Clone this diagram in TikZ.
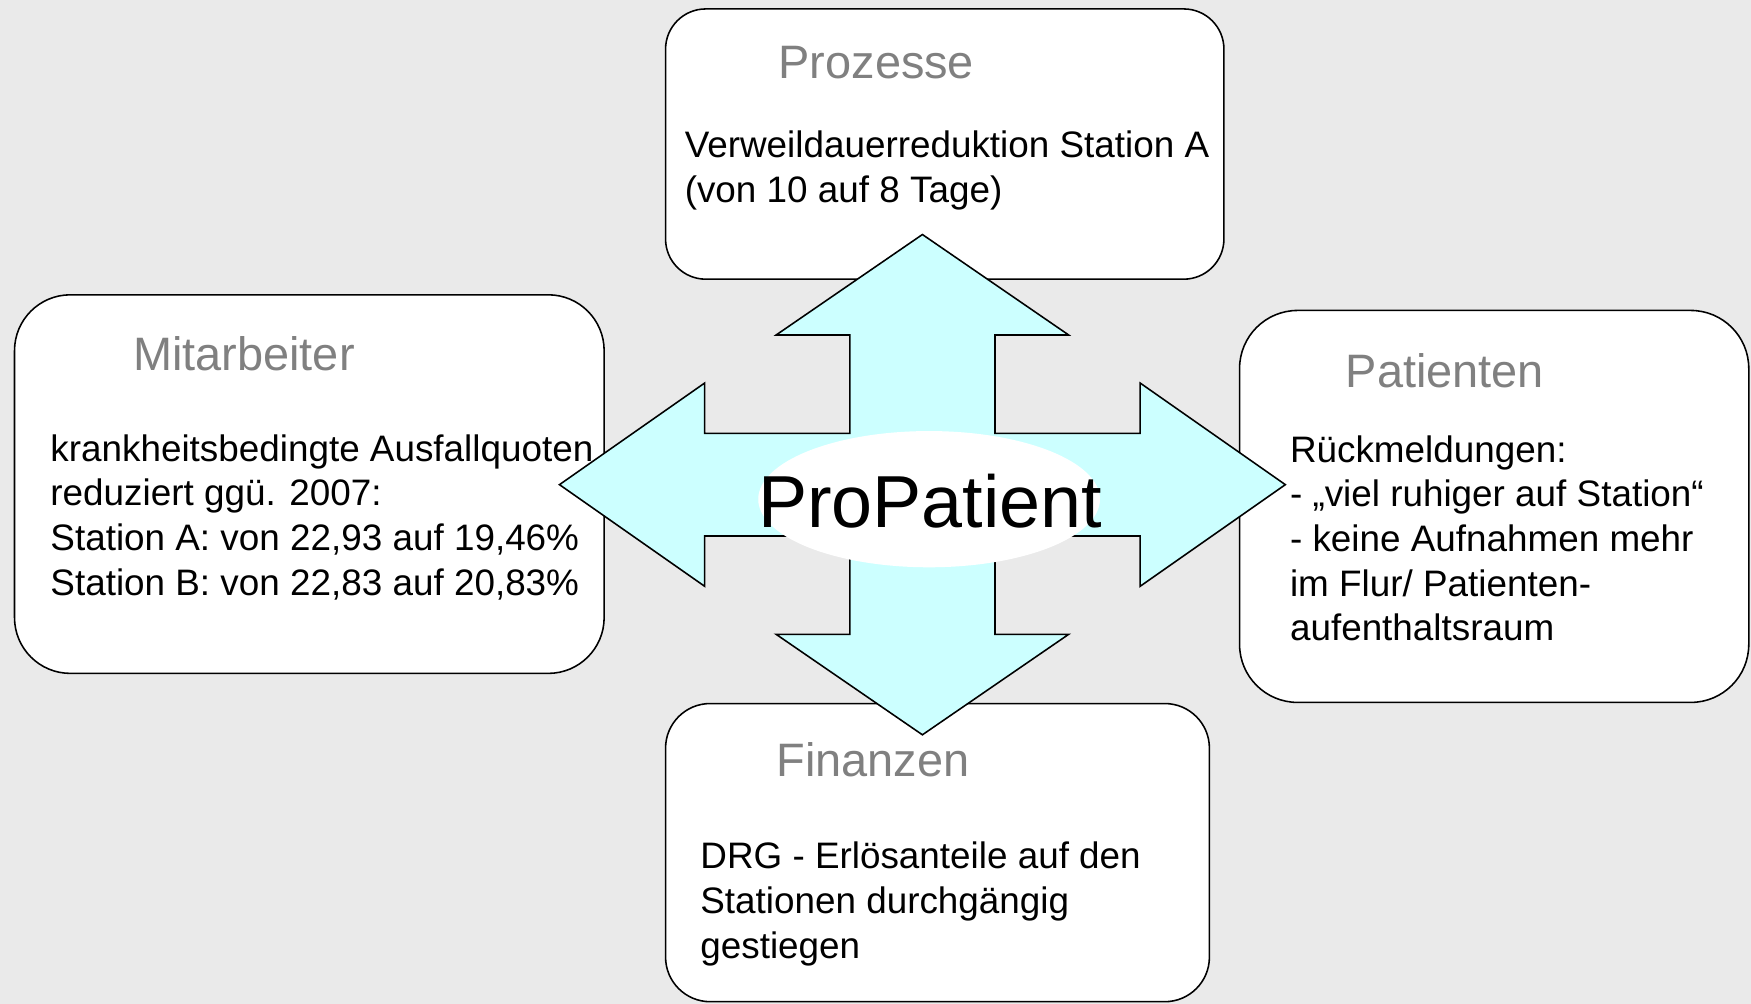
\documentclass[tikz,border=0pt]{standalone}
\usepackage{fontspec}
\setmainfont{Liberation Sans}
\usetikzlibrary{shapes.geometric}
\definecolor{bg}{RGB}{234,234,234}
\definecolor{crossfill}{RGB}{204,255,255}
\definecolor{titlegray}{RGB}{128,128,128}
\begin{document}
\begin{tikzpicture}[x=1pt,y=-1pt,
  box/.style={draw=black, line width=1.4pt, fill=white, rounded corners=#1, inner sep=0pt, outer sep=0pt},
  title/.style={anchor=base west, inner sep=0pt, text=titlegray, font=\fontsize{42}{50}\selectfont},
  body/.style={anchor=base west, inner sep=0pt, align=left, text=black, font=\fontsize{33}{40}\selectfont},
  crossshape/.style={draw=black, line width=1.4pt, fill=crossfill, line join=miter}
]
\useasboundingbox (0,0) rectangle (1568,899);
\fill[bg] (0,0) rectangle (1568,899);

% boxes
\node[box=36pt, minimum width=500pt, minimum height=242pt] (proz) at (846,129) {};
\node[box=50pt, minimum width=528pt, minimum height=339pt] (mita) at (277,433.5) {};
\node[box=52pt, minimum width=456pt, minimum height=351pt] (pati) at (1338,453.5) {};
\node[box=40pt, minimum width=487pt, minimum height=267pt] (fina) at (839.5,763.5) {};

% cross arrow
\draw[crossshape] (826,210) -- (957,300) -- (891,300) -- (891,388) -- (1021,388) -- (1021,343)
  -- (1151,434) -- (1021,525) -- (1021,480) -- (891,480) -- (891,568) -- (957,568)
  -- (826,658) -- (695,568) -- (761,568) -- (761,480) -- (631,480) -- (631,525)
  -- (501,434) -- (631,343) -- (631,388) -- (761,388) -- (761,300) -- (695,300) -- cycle;

% centre
\node[ellipse, fill=white, minimum width=306pt, minimum height=122pt, inner sep=0pt] (core) at (832,447) {};
\node[anchor=base, inner sep=0pt, font=\fontsize{66}{70}\selectfont] (coretext) at (833,472) {ProPatient};

% titles
\node[title] (tproz) at (697,70) {Prozesse};
\node[title] (tmita) at (119,332) {Mitarbeiter};
\node[title] (tpati) at (1205,347) {Patienten};
\node[title] (tfina) at (695,695) {Finanzen};

% bodies (base anchor = baseline of the last line)
\node[body] (bproz) at (613,181) {Verweildauerreduktion Station A\\(von 10 auf 8 Tage)};
\node[body] (bmita) at (45,533) {krankheitsbedingte Ausfallquoten\\reduziert ggü. 2007:\\Station A: von 22,93 auf 19,46\%\\Station B: von 22,83 auf 20,83\%};
\node[body] (bpati) at (1155,574) {Rückmeldungen:\\- „viel ruhiger auf Station“\\- keine Aufnahmen mehr\\im Flur/ Patienten-\\aufenthaltsraum};
\node[body] (bfina) at (627,858) {DRG - Erlösanteile auf den\\Stationen durchgängig\\gestiegen};
\end{tikzpicture}
\end{document}
